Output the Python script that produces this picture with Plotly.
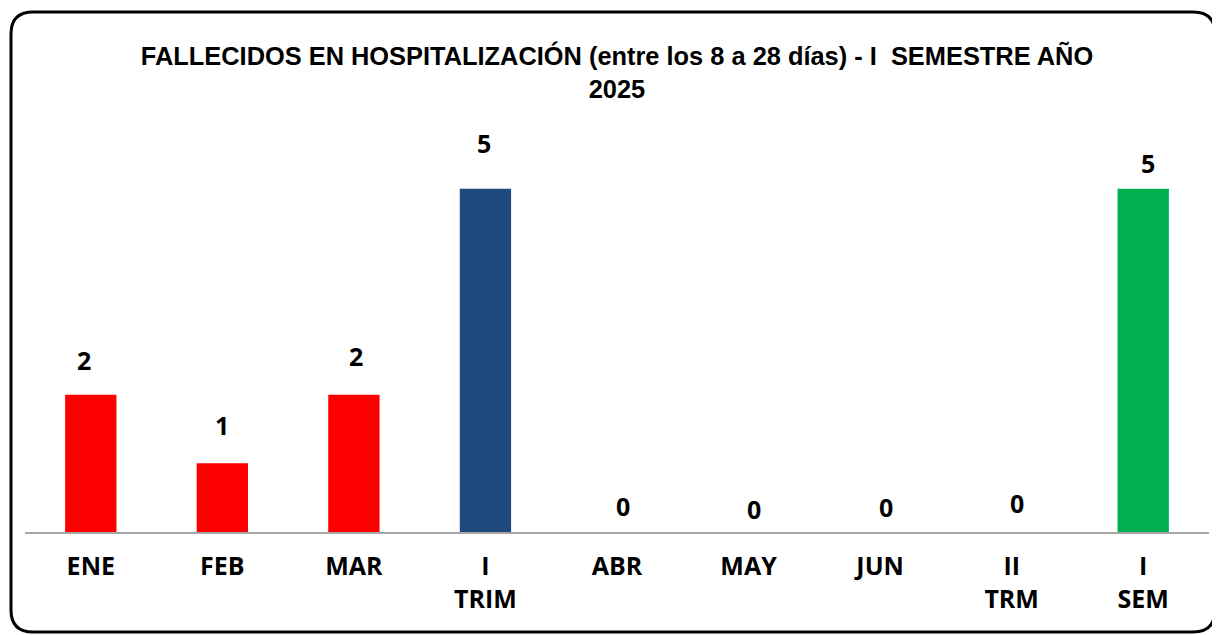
import plotly.graph_objects as go

# ---- data ----
categories = ["ENE", "FEB", "MAR", "I<br>TRIM", "ABR", "MAY", "JUN", "II<br>TRM", "I<br>SEM"]
values = [2, 1, 2, 5, 0, 0, 0, 0, 5]
title_text = "FALLECIDOS EN HOSPITALIZACIÓN (entre los 8 a 28 días) - I  SEMESTRE AÑO<br>2025"

# ---- styles ----
bar_colors = ["#FF0000", "#FF0000", "#FF0000", "#1F497D",
              "#FF0000", "#FF0000", "#FF0000", "#1F497D", "#00B050"]
label_dx = [-7, 0, 2, -1, 6, 5, 6, 5, 5]        # manual label nudges (px)
label_dy = [35, 38, 39, 46, 26, 23, 25, 29, 26]  # label distance above bar top (px)

# page body has an 8px margin, so the figure is sized/offset accordingly
W, H = 1212, 627
ML, MR, MT, MB = 17, 11, 112, 103
PW, PH = W - ML - MR, H - MT - MB
YMAX = 6.0

fig = go.Figure(go.Bar(
    x=list(range(len(categories))), y=values,
    marker=dict(color=bar_colors, line=dict(width=0)),
    width=0.39, hoverinfo="skip",
))

for i, v in enumerate(values):
    fig.add_annotation(x=i, y=v, text=f"<b>{v}</b>", showarrow=False,
                       xshift=label_dx[i], yshift=label_dy[i],
                       font=dict(family="Open Sans", size=25, color="#000000"),
                       xanchor="center", yanchor="middle")

# rounded border around whole chart (pixel -> paper)
def px(xp):
    return (xp - ML) / PW

def py(yp):
    return (H - MB - yp) / PH

L, T, R, B, r = 3, 4, 1207, 624, 22
path = (f"M {px(L+r)},{py(T)} L {px(R-r)},{py(T)} Q {px(R)},{py(T)} {px(R)},{py(T+r)} "
        f"L {px(R)},{py(B-r)} Q {px(R)},{py(B)} {px(R-r)},{py(B)} "
        f"L {px(L+r)},{py(B)} Q {px(L)},{py(B)} {px(L)},{py(B-r)} "
        f"L {px(L)},{py(T+r)} Q {px(L)},{py(T)} {px(L+r)},{py(T)} Z")
fig.add_shape(type="path", path=path, xref="paper", yref="paper",
              line=dict(color="#000000", width=3), layer="above")

fig.update_layout(
    width=W, height=H,
    margin=dict(l=ML, r=MR, t=MT, b=MB),
    paper_bgcolor="white", plot_bgcolor="white",
    showlegend=False,
    title=dict(text=f"<b>{title_text}</b>", x=(ML + PW / 2) / W, xanchor="center",
               y=1 - 57 / H, yanchor="middle",
               font=dict(family="Liberation Sans, Arial", size=25.4, color="#000000")),
    xaxis=dict(tickmode="array", tickvals=list(range(len(categories))),
               ticktext=[f"<b>{c}</b>" for c in categories],
               range=[-0.5, len(categories) - 0.5],
               showgrid=False, zeroline=False,
               showline=True, linecolor="#A6A6A6", linewidth=2,
               ticks="", ticklabelstandoff=11,
               tickfont=dict(family="Open Sans", size=25, color="#000000")),
    yaxis=dict(range=[0, YMAX], visible=False, showgrid=False, zeroline=False),
)

fig.write_html("out.html")
